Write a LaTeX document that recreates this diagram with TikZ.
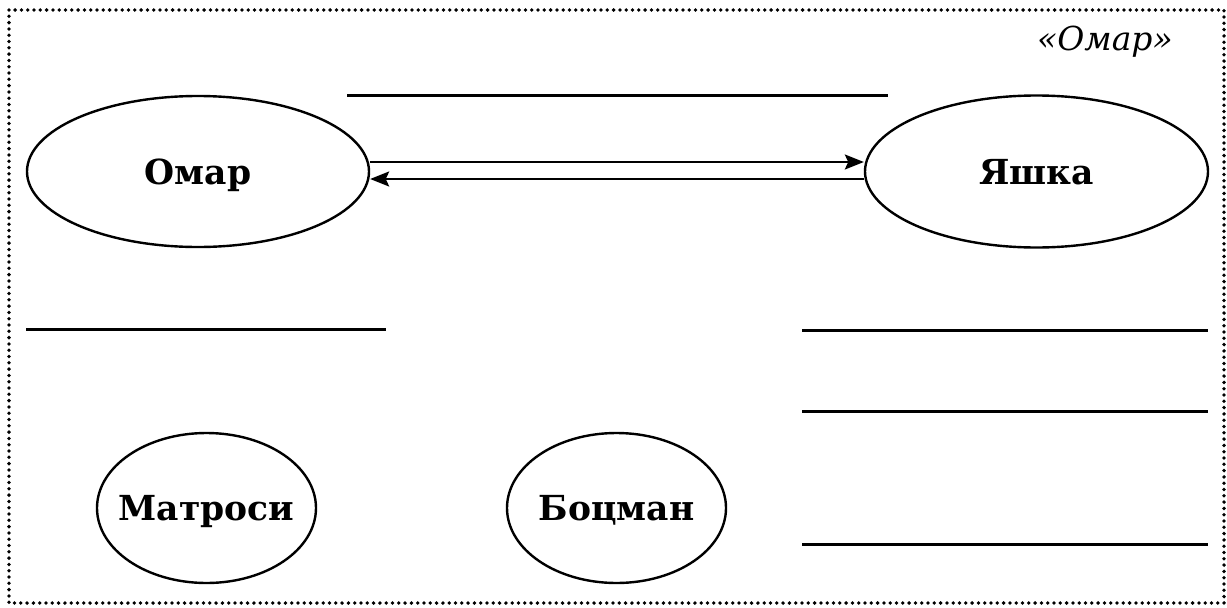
\documentclass[tikz,border=0pt]{standalone}
\usepackage{fontspec}
\setmainfont{DejaVu Serif}
\usetikzlibrary{shapes.geometric,arrows.meta}
\begin{document}
\begin{tikzpicture}[x=1pt,y=-1pt,
  person/.style={ellipse,draw,line width=2.4pt,inner xsep=-30pt,inner ysep=0pt,
    font=\bfseries\fontsize{34.5}{34.5}\selectfont,text height=25pt,text depth=0pt},
  blankline/.style={line width=3pt},
  link/.style={line width=2.3pt,-{Stealth[length=19pt,width=15pt,inset=3.5pt]}},
  dotframe/.style={line width=3.8pt,line cap=round,dash pattern=on 0pt off 6.3pt}
]
\useasboundingbox (0,0) rectangle (1227,608);
\draw[dotframe] (9,10) rectangle (1224,603);
\node[anchor=base,font=\itshape\fontsize{33}{33}\selectfont] (title) at (1105,50) {«Омар»};
\node[person,minimum width=342pt,minimum height=151pt] (omar) at (198,171.5) {Омар};
\node[person,minimum width=343pt,minimum height=152pt] (yashka) at (1036.5,171.5) {Яшка};
\node[person,minimum width=219pt,minimum height=150pt] (matrosi) at (206.5,508) {Матроси};
\node[person,minimum width=219pt,minimum height=150pt] (bocman) at (616.5,508) {Боцман};
\draw[link] ([yshift=9.5pt]omar.east) -- ([yshift=9.5pt]yashka.west);
\draw[link] ([yshift=-7.5pt]yashka.west) -- ([yshift=-7.5pt]omar.east);
\coordinate (t1) at (347,95); \coordinate (t2) at (888,95);
\coordinate (l1) at (26,329); \coordinate (l2) at (386,329);
\coordinate (r1a) at (802,330); \coordinate (r1b) at (1208,330);
\coordinate (r2a) at (802,411); \coordinate (r2b) at (1208,411);
\coordinate (r3a) at (802,544); \coordinate (r3b) at (1208,544);
\draw[blankline] (t1) -- (t2);
\draw[blankline] (l1) -- (l2);
\draw[blankline] (r1a) -- (r1b);
\draw[blankline] (r2a) -- (r2b);
\draw[blankline] (r3a) -- (r3b);
\end{tikzpicture}
\end{document}
